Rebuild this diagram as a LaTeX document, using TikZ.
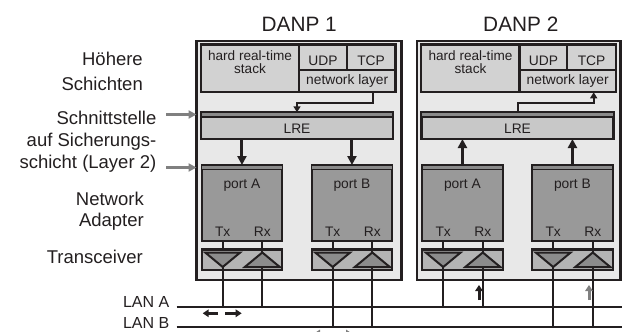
\documentclass[tikz,border=0pt]{standalone}
\usepackage{fontspec}
\setmainfont{Liberation Sans}
\usetikzlibrary{arrows.meta,calc}
\definecolor{dk}{HTML}{231F20}
\definecolor{outerfill}{HTML}{E8E8E8}
\definecolor{stackfill}{HTML}{D2D2D2}
\definecolor{lrefill}{HTML}{C8C8C8}
\definecolor{portfill}{HTML}{999999}
\definecolor{trxfill}{HTML}{B4B4B4}
\definecolor{trifill}{HTML}{8C8C8C}
\definecolor{stripegray}{HTML}{8A8A8A}
\definecolor{arrgray}{HTML}{808080}
\tikzset{
  box/.style={draw=dk, line width=2.2pt, inner sep=0pt, outer sep=0pt, anchor=north west},
  stripe/.style={draw=dk, line width=1.4pt, fill=stripegray},
  bigtxt/.style={font=\fontsize{18.5}{22}\selectfont, text=dk, inner sep=0pt, anchor=base east},
  titletxt/.style={font=\fontsize{20.8}{24}\selectfont, text=dk, inner sep=0pt, anchor=base},
  smalltxt/.style={font=\fontsize{13.8}{16}\selectfont, text=dk, inner sep=0pt, anchor=base},
  stacktxt/.style={font=\fontsize{13.6}{12.6}\selectfont, text=dk, inner sep=0pt, anchor=base},
  lantxt/.style={font=\fontsize{16}{19}\selectfont, text=dk, inner sep=0pt, anchor=base east},
  wire/.style={draw=dk, line width=2pt},
  tri/.style={draw=dk, line width=2pt, fill=trifill, line join=miter},
  thinarrow/.style={draw=dk, line width=2pt, -{Triangle[length=6pt,width=7pt]}},
  fatarrow/.style={draw=dk, line width=3pt, -{Triangle[length=9pt,width=9pt]}},
  grayarrow/.style={draw=arrgray, line width=3pt, -{Triangle[length=8pt,width=8pt]}},
  lanarrow/.style={line width=3pt, -{Triangle[length=6pt,width=7.5pt]}},
}
\newcommand{\PortUnit}[4]{%
  \node[box, fill=portfill, minimum width=80.5pt, minimum height=76pt] (#1) at (#2,165) {};
  \draw[stripe] (#1.north west) rectangle ($(#1.north east)+(0,4.6)$);
  \node[smalltxt] (#1lbl) at ($(#1.north)+(0,23)$) {#3};
  \coordinate (#1tx) at ($(#1.south west)+(21,0)$);
  \coordinate (#1rx) at ($(#1.south west)+(60.6,0)$);
  \node[smalltxt] (#1txl) at ($(#1tx)+(0,-4.3)$) {Tx};
  \node[smalltxt] (#1rxl) at ($(#1rx)+(0,-4.3)$) {Rx};
  \node[box, fill=trxfill, minimum width=80.5pt, minimum height=20.8pt] (#1trx) at (#2,249.5) {};
  \draw[tri] ($(#1tx)+(-17.5,11.5)$) -- ($(#1tx)+(17.5,11.5)$) -- ($(#1tx)+(0,26)$) -- cycle;
  \draw[tri] ($(#1rx)+(-17.5,26)$) -- ($(#1rx)+(17.5,26)$) -- ($(#1rx)+(0,11.5)$) -- cycle;
  \draw[wire] (#1tx) -- (#1trx.north -| #1tx);
  \draw[wire] (#1rx) -- ($(#1rx)+(0,11.5)$);
  \draw[wire] ($(#1tx)+(0,26)$) -- (#1tx |- #4);
  \draw[wire] ($(#1rx)+(0,26)$) -- (#1rx |- #4);
}
\newcommand{\DanpUnit}[3]{%
  \node[box, fill=outerfill, minimum width=#3pt, minimum height=239.3pt] (danp#1) at ({196.5+#2},40.7) {};
  \node[box, fill=stackfill, minimum width=98.3pt, minimum height=47.8pt] (hrt#1) at ({200.7+#2},44.5) {};
  \node[box, fill=stackfill, minimum width=47.7pt, minimum height=25.5pt] (udp#1) at ({299+#2},44.5) {};
  \node[box, fill=stackfill, minimum width=48.8pt, minimum height=25.5pt] (tcp#1) at ({346.7+#2},44.5) {};
  \node[box, fill=stackfill, minimum width=96.5pt, minimum height=22.3pt] (nl#1) at ({299+#2},70) {};
  \node[stacktxt] (hrtA#1) at ({250+#2},60.9) {hard real-time};
  \node[stacktxt] (hrtB#1) at ({250+#2},73.6) {stack};
  \node[smalltxt] (udpt#1) at ({322.9+#2},65) {UDP};
  \node[smalltxt] (tcpt#1) at ({371.1+#2},65) {TCP};
  \node[smalltxt] (nlt#1) at ({347.2+#2},84.3) {network layer};
  \node[box, fill=lrefill, minimum width=192pt, minimum height=26.7pt] (lre#1) at ({201+#2},112.3) {};
  \draw[stripe] (lre#1.north west) rectangle ($(lre#1.north east)+(0,4.6)$);
  \node[smalltxt] (lret#1) at ({297+#2},133.3) {LRE};
  \PortUnit{pa#1}{{201.7+#2}}{port A}{lanAw}
  \PortUnit{pb#1}{{311.7+#2}}{port B}{lanBw}
}
\begin{document}
\begin{tikzpicture}[x=1pt,y=-1pt]
\useasboundingbox (0,0) rectangle (622,332);
% LAN lines
\coordinate (lanAw) at (176.7,307.3);
\coordinate (lanAe) at (623,307.3);
\coordinate (lanBw) at (176.7,326.7);
\coordinate (lanBe) at (623,326.7);
\node[lantxt] (lanAlbl) at (169.5,307.7) {LAN A};
\node[lantxt] (lanBlbl) at (169.5,328.3) {LAN B};
\draw[wire] (lanAw) -- (lanAe);
\draw[wire] (lanBw) -- (lanBe);
% titles
\node[titletxt] (title1) at (299.2,31.7) {DANP 1};
\node[titletxt] (title2) at (520.8,31.7) {DANP 2};
% units
\DanpUnit{1}{0}{205}
\DanpUnit{2}{220.5}{203.5}
% internal arrows DANP 1
\draw[thinarrow] ($(nl1.south east)+(-22.8,0)$) |- ($(lre1.north)+(0,-9.6)$) -- (lre1.north);
\draw[fatarrow] (lre1.south -| pa1.north) -- (pa1.north);
\draw[fatarrow] (lre1.south -| pb1.north) -- (pb1.north);
% internal arrows DANP 2
\draw[thinarrow] (lre2.north) |- ($(nl2.south east)+(-22.3,10.4)$) -- ($(nl2.south east)+(-22.3,0)$);
\draw[fatarrow] (pa2.north) -- (lre2.south -| pa2.north);
\draw[fatarrow] (pb2.north) -- (lre2.south -| pb2.north);
% left labels
\node[bigtxt] (hoe1) at (143,65) {Höhere};
\node[bigtxt] (hoe2) at (143,90) {Schichten};
\node[bigtxt] (sch1) at (156.5,124) {Schnittstelle};
\node[bigtxt] (sch2) at (156.5,146.7) {auf Sicherungs-};
\node[bigtxt] (sch3) at (156.5,168.3) {schicht (Layer 2)};
\node[bigtxt] (na1) at (144,205) {Network};
\node[bigtxt] (na2) at (144,226.7) {Adapter};
\node[bigtxt] (trxl) at (143,263.3) {Transceiver};
\coordinate (g1) at (166,114.5);
\coordinate (g2) at (166,167.5);
\draw[grayarrow] (g1) -- (g1 -| danp1.west);
\draw[grayarrow] (g2) -- (g2 -| danp1.west);
% LAN direction arrows
\coordinate (la1) at (218,313.3);
\coordinate (la2) at (202.7,313.3);
\coordinate (la3) at (225,313.3);
\coordinate (la4) at (241.7,313.3);
\draw[lanarrow, dk] (la1) -- (la2);
\draw[lanarrow, dk] (la3) -- (la4);
\coordinate (lb1) at (327,333.5);
\coordinate (lb2) at (314,333.5);
\coordinate (lb3) at (337,333.5);
\coordinate (lb4) at (352,333.5);
\draw[lanarrow, arrgray] (lb1) -- (lb2);
\draw[lanarrow, arrgray] (lb3) -- (lb4);
\coordinate (u1) at (479,300);
\coordinate (u2) at (479,285);
\coordinate (u3) at (589,300);
\coordinate (u4) at (589,285);
\draw[lanarrow, dk] (u1) -- (u2);
\draw[lanarrow, arrgray] (u3) -- (u4);
\end{tikzpicture}
\end{document}
